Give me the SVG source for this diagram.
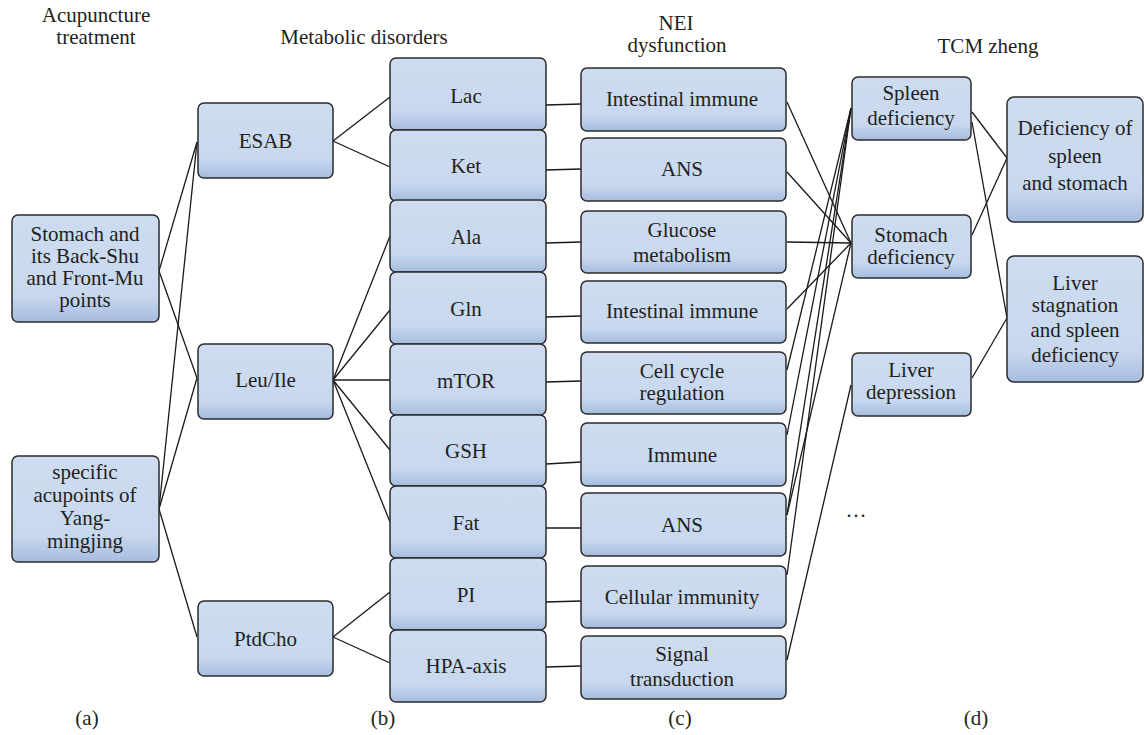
<svg xmlns="http://www.w3.org/2000/svg" width="1144" height="735" viewBox="0 0 1144 735">
<defs>
<linearGradient id="bx" x1="0" y1="0" x2="0" y2="1">
<stop offset="0" stop-color="#cddcf0"/>
<stop offset="0.75" stop-color="#c8d8ee"/>
<stop offset="1" stop-color="#a6bcdf"/>
</linearGradient>
<style>
rect.n{fill:url(#bx);stroke:#2b2b2b;stroke-width:1.5}
text{font-family:"Liberation Serif","Times New Roman",serif;font-size:21px;fill:#231f20;text-anchor:middle}
#connectors line{stroke:#1a1a1a;stroke-width:1.3}
</style>
</defs>
<rect width="1144" height="735" fill="#ffffff"/>
<g id="headers">
<text x="96" y="22">Acupuncture</text>
<text x="96" y="44">treatment</text>
<text x="364" y="44">Metabolic disorders</text>
<text x="676" y="30">NEI</text>
<text x="677" y="52">dysfunction</text>
<text x="988" y="53">TCM zheng</text>
<text x="87" y="725">(a)</text>
<text x="383" y="725">(b)</text>
<text x="680" y="725">(c)</text>
<text x="976" y="725">(d)</text>
<text x="856" y="517">…</text>
</g>
<g id="connectors">
<line x1="159" y1="271" x2="197" y2="142"/>
<line x1="159" y1="271" x2="197" y2="378"/>
<line x1="159" y1="509" x2="197" y2="142"/>
<line x1="159" y1="509" x2="197" y2="378"/>
<line x1="159" y1="509" x2="197" y2="637"/>
<line x1="333" y1="141" x2="390" y2="97"/>
<line x1="333" y1="141" x2="390" y2="167"/>
<line x1="333" y1="380" x2="390" y2="236"/>
<line x1="333" y1="380" x2="390" y2="310"/>
<line x1="333" y1="380" x2="390" y2="380"/>
<line x1="333" y1="380" x2="390" y2="450"/>
<line x1="333" y1="380" x2="390" y2="522"/>
<line x1="333" y1="637" x2="390" y2="592"/>
<line x1="333" y1="637" x2="390" y2="663"/>
<line x1="546" y1="105" x2="581" y2="104"/>
<line x1="546" y1="170" x2="581" y2="169"/>
<line x1="546" y1="243" x2="581" y2="242"/>
<line x1="546" y1="317" x2="581" y2="316"/>
<line x1="546" y1="382" x2="581" y2="381"/>
<line x1="546" y1="464" x2="581" y2="462"/>
<line x1="546" y1="528" x2="581" y2="528"/>
<line x1="546" y1="602" x2="581" y2="601"/>
<line x1="546" y1="667" x2="581" y2="666"/>
<line x1="787" y1="102" x2="851" y2="243"/>
<line x1="787" y1="172" x2="851" y2="243"/>
<line x1="787" y1="242" x2="851" y2="243"/>
<line x1="787" y1="309" x2="851" y2="243"/>
<line x1="787" y1="370" x2="851" y2="108"/>
<line x1="787" y1="435" x2="851" y2="108"/>
<line x1="787" y1="515" x2="851" y2="108"/>
<line x1="787" y1="515" x2="851" y2="243"/>
<line x1="787" y1="575" x2="851" y2="108"/>
<line x1="787" y1="660" x2="851" y2="385"/>
<line x1="972" y1="112" x2="1007" y2="158"/>
<line x1="972" y1="122" x2="1007" y2="318"/>
<line x1="972" y1="235" x2="1007" y2="158"/>
<line x1="972" y1="378" x2="1007" y2="318"/>
</g>
<g id="n-stomach-points"><rect class="n" x="12" y="215" width="147" height="107" rx="6"/><text x="85" y="241">Stomach and</text><text x="85" y="263">its Back-Shu</text><text x="85" y="285">and Front-Mu</text><text x="85" y="307">points</text></g>
<g id="n-yangmingjing"><rect class="n" x="12" y="456" width="147" height="106" rx="6"/><text x="85" y="479">specific</text><text x="85" y="502">acupoints of</text><text x="85" y="525">Yang-</text><text x="85" y="548">mingjing</text></g>
<g id="n-esab"><rect class="n" x="198" y="103" width="135" height="75" rx="6"/><text x="265.5" y="148">ESAB</text></g>
<g id="n-leuile"><rect class="n" x="198" y="344" width="135" height="75" rx="6"/><text x="265.5" y="387">Leu/Ile</text></g>
<g id="n-ptdcho"><rect class="n" x="198" y="601" width="135" height="75" rx="6"/><text x="265.5" y="646">PtdCho</text></g>
<g id="n-lac"><rect class="n" x="390" y="58" width="156" height="72" rx="6"/><text x="466" y="103">Lac</text></g>
<g id="n-ket"><rect class="n" x="390" y="130" width="156" height="71" rx="6"/><text x="466" y="173">Ket</text></g>
<g id="n-ala"><rect class="n" x="390" y="200" width="156" height="72" rx="6"/><text x="466" y="244">Ala</text></g>
<g id="n-gln"><rect class="n" x="390" y="272" width="156" height="72" rx="6"/><text x="466" y="316">Gln</text></g>
<g id="n-mtor"><rect class="n" x="390" y="344" width="156" height="71" rx="6"/><text x="466" y="388">mTOR</text></g>
<g id="n-gsh"><rect class="n" x="390" y="415" width="156" height="71" rx="6"/><text x="466" y="458">GSH</text></g>
<g id="n-fat"><rect class="n" x="390" y="486" width="156" height="72" rx="6"/><text x="466" y="530">Fat</text></g>
<g id="n-pi"><rect class="n" x="390" y="558" width="156" height="72" rx="6"/><text x="466" y="602">PI</text></g>
<g id="n-hpa"><rect class="n" x="390" y="630" width="156" height="72" rx="6"/><text x="466" y="673">HPA-axis</text></g>
<g id="n-intestinal1"><rect class="n" x="581" y="68" width="205" height="63" rx="6"/><text x="682" y="106">Intestinal immune</text></g>
<g id="n-ans1"><rect class="n" x="581" y="138" width="205" height="63" rx="6"/><text x="682" y="176">ANS</text></g>
<g id="n-glucose"><rect class="n" x="581" y="211" width="205" height="62" rx="6"/><text x="682" y="237">Glucose</text><text x="682" y="262">metabolism</text></g>
<g id="n-intestinal2"><rect class="n" x="581" y="281" width="205" height="62" rx="6"/><text x="682" y="318">Intestinal immune</text></g>
<g id="n-cellcycle"><rect class="n" x="581" y="352" width="205" height="62" rx="6"/><text x="682" y="378">Cell cycle</text><text x="682" y="400">regulation</text></g>
<g id="n-immune"><rect class="n" x="581" y="423" width="205" height="63" rx="6"/><text x="682" y="462">Immune</text></g>
<g id="n-ans2"><rect class="n" x="581" y="493" width="205" height="63" rx="6"/><text x="682" y="532">ANS</text></g>
<g id="n-cellular"><rect class="n" x="581" y="566" width="205" height="62" rx="6"/><text x="682" y="604">Cellular immunity</text></g>
<g id="n-signal"><rect class="n" x="581" y="636" width="205" height="63" rx="6"/><text x="682" y="661">Signal</text><text x="682" y="686">transduction</text></g>
<g id="n-spleen"><rect class="n" x="852" y="77" width="119" height="63" rx="6"/><text x="911" y="100">Spleen</text><text x="911" y="125">deficiency</text></g>
<g id="n-stomachdef"><rect class="n" x="852" y="215" width="119" height="63" rx="6"/><text x="911" y="242">Stomach</text><text x="911" y="264">deficiency</text></g>
<g id="n-liverdep"><rect class="n" x="852" y="353" width="119" height="63" rx="6"/><text x="911" y="377">Liver</text><text x="911" y="399">depression</text></g>
<g id="n-defspleenstomach"><rect class="n" x="1007" y="97" width="136" height="125" rx="7"/><text x="1075" y="135">Deficiency of</text><text x="1075" y="163">spleen</text><text x="1075" y="190">and stomach</text></g>
<g id="n-liverstag"><rect class="n" x="1007" y="256" width="136" height="126" rx="7"/><text x="1075" y="290">Liver</text><text x="1075" y="312">stagnation</text><text x="1075" y="337">and spleen</text><text x="1075" y="362">deficiency</text></g>
</svg>
